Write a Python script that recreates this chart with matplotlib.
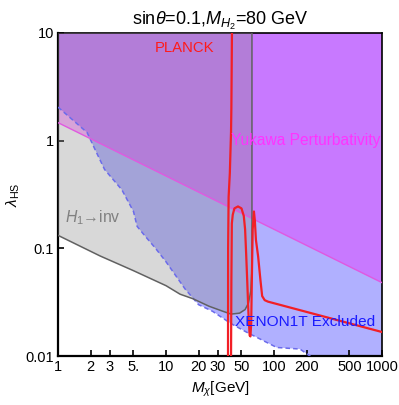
import matplotlib
matplotlib.use("Agg")
import matplotlib.pyplot as plt
import numpy as np

plt.rcParams['font.family'] = ['Liberation Sans', 'DejaVu Sans']
plt.rcParams['mathtext.fontset'] = 'custom'
plt.rcParams['mathtext.rm'] = 'Liberation Sans'
plt.rcParams['mathtext.it'] = 'Liberation Sans:italic'
plt.rcParams['mathtext.bf'] = 'Liberation Sans:bold'

# ---- data ----
# XENON1T exclusion boundary (dashed)
xenon_M = [1, 1.86, 2.2, 2.7, 3.9, 5.0, 5.4, 6.4, 8, 10, 15, 20, 27, 40, 56, 106, 174, 215, 400, 1000]
xenon_lam = [2.05, 1.19, 0.83, 0.54, 0.35, 0.22, 0.16, 0.13, 0.10, 0.075, 0.042, 0.030, 0.026, 0.020,
             0.0166, 0.012, 0.0116, 0.010, 0.007, 0.004]

# Yukawa perturbativity boundary
yuk_M = [1, 1000]
yuk_lam = [1.47, 0.048]

# H1 -> inv boundary
hinv_M = [1, 2.45, 5, 10, 13.5, 17.8, 25, 33.7, 40, 48, 54, 58, 61, 62.3, 62.5, 62.5]
hinv_lam = [0.132, 0.085, 0.062, 0.045, 0.0375, 0.034, 0.029, 0.026, 0.0245, 0.025, 0.027, 0.031,
            0.040, 0.060, 0.10, 10]

# PLANCK relic density contour: left branch and loop branch
planck1_M = [40.8, 40.3, 40.0, 39.0, 38.0, 37.6, 37.5]
planck1_lam = [10, 2, 1.2, 0.5, 0.3, 0.1, 0.009]
planck2_M = [40.0, 40.3, 40.7, 41.5, 43, 46.4, 50, 52.5, 54, 55.2, 56.5, 58, 59.5, 60.5, 61.5, 62.5,
             63.5, 65.2, 66.5, 68, 71.3, 75, 77.7, 82, 87.8, 1000]
planck2_lam = [0.009, 0.05, 0.17, 0.205, 0.235, 0.245, 0.235, 0.2, 0.15, 0.09, 0.05, 0.025, 0.0155,
               0.0152, 0.02, 0.06, 0.15, 0.22, 0.18, 0.12, 0.084, 0.05, 0.036, 0.033, 0.032, 0.0167]

xticks = [1, 2, 3, 5, 10, 20, 30, 50, 100, 200, 500, 1000]
xticklabels = ['1', '2', '3', '5.', '10', '20', '30', '50', '100', '200', '500', '1000']
yticks = [0.01, 0.1, 1, 10]
yticklabels = ['0.01', '0.1', '1', '10']

# ---- figure ----
fig = plt.figure(figsize=(3.99, 4.05), dpi=100)
ax = fig.add_axes([58/399, 49/405, 324/399, 323/405])
ax.set_xscale('log')
ax.set_yscale('log')
ax.set_xlim(1, 1000)
ax.set_ylim(0.01, 10)
top = 30

# blue XENON1T region
ax.fill(list(xenon_M) + [xenon_M[-1], xenon_M[0]], list(xenon_lam) + [top, top],
        color=(0, 0, 1), alpha=0.31, lw=0, zorder=1)
ax.plot(xenon_M, xenon_lam, color=(0.42, 0.42, 0.92), lw=1.1, ls=(0, (3, 2)), zorder=4)

# magenta Yukawa region
ax.fill(list(yuk_M) + [yuk_M[-1], yuk_M[0]], list(yuk_lam) + [top, top],
        color=(1, 0, 1), alpha=0.31, lw=0, zorder=2)
ax.plot(yuk_M, yuk_lam, color=(0.88, 0.35, 0.88), lw=1.0, zorder=4)

# gray H1->inv region
ax.fill(list(hinv_M) + [hinv_M[0]], list(hinv_lam) + [hinv_lam[-1]],
        color=(0.533, 0.533, 0.533), alpha=0.32, lw=0, zorder=3)
ax.plot(hinv_M, hinv_lam, color=(0.38, 0.38, 0.38), lw=1.1, zorder=4)

# PLANCK contour
ax.plot(planck1_M, planck1_lam, color=(0.95, 0.12, 0.15), lw=1.6, zorder=5)
ax.plot(planck2_M, planck2_lam, color=(0.95, 0.12, 0.15), lw=1.6, zorder=5)

# labels
ax.text(15, 7.3, 'PLANCK', color=(1, 0.1, 0.1), fontsize=10.7, ha='center', va='center', zorder=6)
ax.text(40, 1.0, 'Yukawa Perturbativity', color=(1, 0.2, 1), fontsize=11.2, ha='left', va='center', zorder=6)
ax.text(1.16, 0.194, r'$H_1$→inv', color=(0.5, 0.5, 0.5), fontsize=11.3, ha='left', va='center', zorder=6)
ax.text(43.6, 0.0207, 'XENON1T Excluded', color=(0.1, 0.1, 1), fontsize=11.1, ha='left', va='center', zorder=6)

ax.set_xticks(xticks)
ax.set_xticklabels(xticklabels)
ax.set_yticks(yticks)
ax.set_yticklabels(yticklabels)
ax.minorticks_off()
ax.tick_params(direction='in', length=4, width=1.2, labelsize=10.5, top=False, right=False,
               colors='black', pad=3)

for s in ['left', 'bottom']:
    ax.spines[s].set_linewidth(1.6)
for s in ['top', 'right']:
    ax.spines[s].set_linewidth(1.2)

ax.set_title(r'sin$\theta$=0.1,$M_{H_2}$=80 GeV', fontsize=13, pad=6)
ax.set_xlabel(r'$M_\chi$[GeV]', fontsize=11, labelpad=4)
ax.set_ylabel(r'$\lambda_{\rm HS}$', fontsize=11, labelpad=2)

fig.savefig('out.png', dpi=100)
